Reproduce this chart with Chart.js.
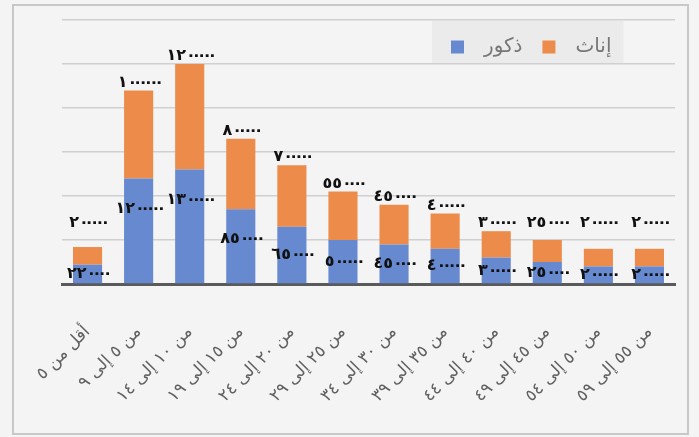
<!DOCTYPE html>
<html>
<head>
<meta charset="utf-8">
<script src="https://cdn.jsdelivr.net/npm/chart.js@4"></script>
<style>
    body { margin: 0; background: #f3f3f3; }
    #wrap { width: 699px; height: 437px; }
</style>
</head>
<body>
<div id="wrap"><canvas id="chart" width="699" height="437"></canvas></div>
<script>
// age groups
const categories = ['أقل من ٥', 'من ٥ إلى ٩', 'من ١٠ إلى ١٤', 'من ١٥ إلى ١٩', 'من ٢٠ إلى ٢٤', 'من ٢٥ إلى ٢٩',
    'من ٣٠ إلى ٣٤', 'من ٣٥ إلى ٣٩', 'من ٤٠ إلى ٤٤', 'من ٤٥ إلى ٤٩', 'من ٥٠ إلى ٥٤', 'من ٥٥ إلى ٥٩'];
const males = [220000, 1200000, 1300000, 850000, 650000, 500000, 450000, 400000, 300000, 250000, 200000, 200000];
const females = [200000, 1000000, 1200000, 800000, 700000, 550000, 450000, 400000, 300000, 250000, 200000, 200000];
const seriesNames = ['ذكور', 'إناث'];
const yMax = 3000000;
const yStep = 500000;

const arDigits = '٠١٢٣٤٥٦٧٨٩';
function toArabic(v) {
    return String(v).replace(/\d/g, d => arDigits[d]);
}

// draws digits one by one so the zeros sit tighter (canvas ignores letterSpacing for arabic)
function drawTight(ctx, text, cx, y) {
    const chars = Array.from(text);
    const adv = chars.map(c => {
        const w = ctx.measureText(c).width;
        return c === '٠' ? w * 0.55 : w;
    });
    const total = adv.reduce((a, b) => a + b, 0);
    let x = cx - total / 2;
    chars.forEach((c, i) => {
        ctx.fillText(c, x, y);
        x += adv[i];
    });
}

// frame + page background
const framePlugin = {
    id: 'frame',
    beforeDraw(chart) {
        const ctx = chart.ctx;
        ctx.save();
        ctx.fillStyle = '#f4f4f4';
        ctx.fillRect(0, 0, chart.width, chart.height);
        ctx.strokeStyle = '#c8c8c8';
        ctx.lineWidth = 2;
        ctx.strokeRect(13, 5, 675, 429);
        // legend background
        const lg = chart.legend;
        if (lg && lg.legendHitBoxes && lg.legendHitBoxes.length) {
            const first = lg.legendHitBoxes[0];
            const last = lg.legendHitBoxes[lg.legendHitBoxes.length - 1];
            ctx.fillStyle = '#ebebeb';
            ctx.fillRect(first.left - 19, 21, last.left + last.width - first.left + 31, 42);
        }
        ctx.restore();
    }
};

// legend overlays the plot area, like the original
const legendPlace = {
    id: 'legendPlace',
    beforeLayout(chart) {
        const lg = chart.legend;
        if (lg && !lg._patched) {
            const fit = lg.fit;
            lg.fit = function() {
                fit.call(this);
                this._realH = this.height;
                this.height = 0;
            };
            lg._patched = true;
        }
    },
    afterLayout(chart) {
        const lg = chart.legend;
        lg.left = 431;
        lg.top = 17;
        lg.right = lg.left + lg.width;
        lg.bottom = lg.top + lg._realH;
        lg.adjustHitBoxes();
    }
};

// value labels
const valueLabels = {
    id: 'valueLabels',
    afterDatasetsDraw(chart) {
        const ctx = chart.ctx;
        const y = chart.scales.y;
        ctx.save();
        ctx.font = 'bold 16px "DejaVu Sans"';
        ctx.fillStyle = '#111';
        ctx.textAlign = 'left';
        ctx.textBaseline = 'middle';
        chart.data.datasets.forEach((ds, di) => {
            const meta = chart.getDatasetMeta(di);
            meta.data.forEach((bar, i) => {
                const h = bar.base - bar.y;
                let ly;
                if (di === 0) {
                    ly = bar.y + Math.min(30, h * 0.5);
                } else {
                    ly = Math.min(bar.y - 8, y.getPixelForValue(700000));
                }
                drawTight(ctx, toArabic(ds.data[i]), bar.x, ly);
            });
        });
        ctx.restore();
    }
};

new Chart(document.getElementById('chart'), {
    type: 'bar',
    data: {
        labels: categories,
        datasets: [
            { label: seriesNames[0], data: males, backgroundColor: '#6689cf' },
            { label: seriesNames[1], data: females, backgroundColor: '#ec8b4a' }
        ]
    },
    options: {
        responsive: false,
        animation: false,
        layout: { padding: { left: 62, right: 24, top: 20, bottom: 0 } },
        datasets: {
            bar: { barPercentage: 0.57, categoryPercentage: 1 }
        },
        scales: {
            x: {
                stacked: true,
                grid: { display: false },
                border: { color: '#5a5a5a', width: 3 },
                ticks: {
                    autoSkip: false,
                    minRotation: 45,
                    maxRotation: 45,
                    padding: 30,
                    color: '#606060',
                    font: { family: 'DejaVu Sans', size: 17 }
                },
                afterFit(scale) { scale.height = 153; }
            },
            y: {
                stacked: true,
                min: 0,
                max: yMax,
                ticks: { display: false, stepSize: yStep },
                grid: { color: '#d0d0d0', lineWidth: 1.5, drawTicks: false },
                border: { display: false }
            }
        },
        plugins: {
            legend: {
                position: 'top',
                align: 'start',
                labels: {
                    boxWidth: 13,
                    boxHeight: 13,
                    padding: 20,
                    color: '#777',
                    font: { family: 'DejaVu Sans', size: 20 },
                    generateLabels(chart) {
                        const items = Chart.defaults.plugins.legend.labels.generateLabels(chart);
                        items.forEach(it => { it.text = '\u2002' + it.text; });
                        return items;
                    }
                }
            },
            tooltip: { enabled: false }
        }
    },
    plugins: [framePlugin, legendPlace, valueLabels]
});
</script>
</body>
</html>
